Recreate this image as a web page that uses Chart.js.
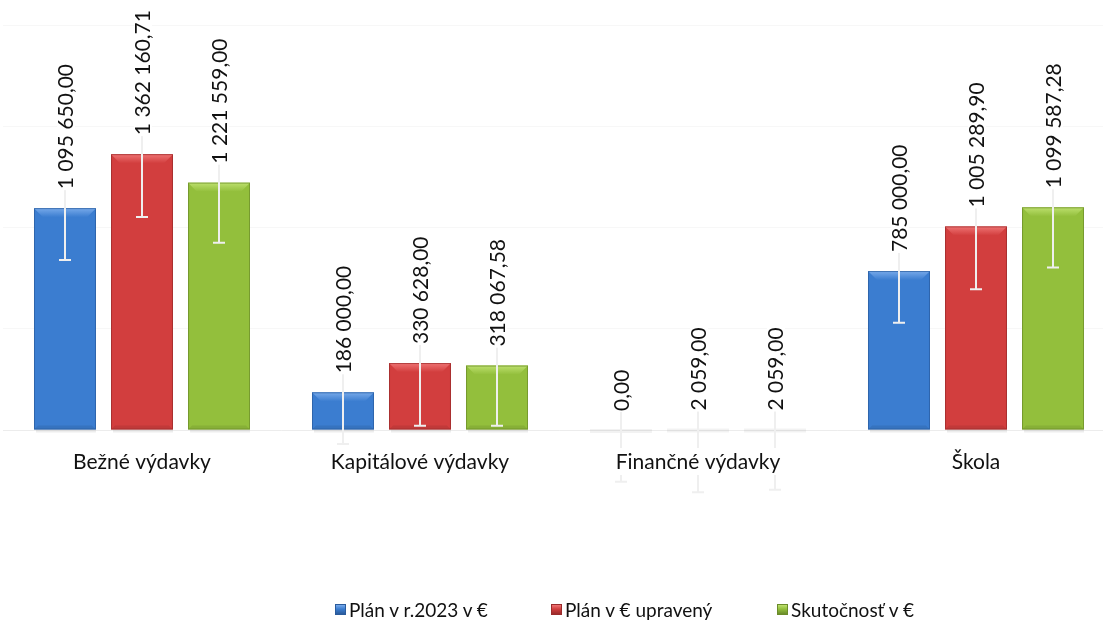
<!DOCTYPE html>
<html>
<head>
<meta charset="utf-8">
<script src="https://cdn.jsdelivr.net/npm/chart.js@4.4.1/dist/chart.umd.min.js"></script>
<style>
  html, body { margin:0; padding:0; background:#fff; overflow:hidden; width:1103px; height:622px; }
  #wrap { position:absolute; left:0; top:0; width:1117px; height:622px; }
  #legend { position:absolute; top:596px; left:0; width:1103px; height:26px; font-family: Lato, "Open Sans", sans-serif; font-size:19px; color:#111; }
  .li { position:absolute; top:0; display:flex; align-items:center; height:26px; white-space:nowrap; }
  .sw { width:11px; height:11px; margin-right:3px; box-sizing:border-box; }
</style>
</head>
<body>
<div id="wrap"><canvas id="c" width="1117" height="622"></canvas></div>
<div id="legend"></div>
<script>
// ---- data ----
const categories = ["Bežné výdavky", "Kapitálové výdavky", "Finančné výdavky", "Škola"];
const seriesNames = ["Plán v r.2023 v €", "Plán v € upravený", "Skutočnosť v €"];
const planPovodny = [1095650.00, 186000.00, 0.00, 785000.00];
const planUpraveny = [1362160.71, 330628.00, 2059.00, 1005289.90];
const skutocnost = [1221559.00, 318067.58, 2059.00, 1099587.28];
// error bar amounts (standard error per series)
const errorAmounts = [255550, 309930, 296980];
const yTicks = [0, 500000, 1000000, 1500000, 2000000];

// ---- styles ----
const palette = [
  { base:'#3b7dd0', light:'#78aaea', dark:'#2a5b9c', mid:'#4688d8' },
  { base:'#d23e3e', light:'#ef7474', dark:'#9a2b2b', mid:'#dc4848' },
  { base:'#93bf3c', light:'#bde06e', dark:'#6b8c2a', mid:'#9dc944' }
];
const legendPos = [335, 551, 777];
const FONT = 'Lato, "Open Sans", sans-serif';
const CAT_FONT_SIZE = 21;

function fmt(v) {
  const s = v.toFixed(2).split('.');
  const int = s[0].replace(/\B(?=(\d{3})+(?!\d))/g, ' ');
  return int + ',' + s[1];
}

function fillFor(i) {
  return function(ctx) {
    const chart = ctx.chart;
    const el = ctx.element;
    if (!el || !chart.chartArea) return palette[i].base;
    const p = el.getProps(['x','width'], true);
    if (!isFinite(p.x) || !isFinite(p.width)) return palette[i].base;
    const g = chart.ctx.createLinearGradient(p.x - p.width/2, 0, p.x + p.width/2, 0);
    g.addColorStop(0, palette[i].dark);
    g.addColorStop(0.08, palette[i].base);
    g.addColorStop(0.5, palette[i].mid);
    g.addColorStop(0.92, palette[i].base);
    g.addColorStop(1, palette[i].dark);
    return g;
  };
}

const bevelPlugin = {
  id: 'bevel',
  afterDatasetsDraw(chart) {
    const ctx = chart.ctx;
    chart.data.datasets.forEach((ds, di) => {
      const meta = chart.getDatasetMeta(di);
      meta.data.forEach((bar) => {
        const p = bar.getProps(['x','y','base','width'], true);
        const l = p.x - p.width/2, r = p.x + p.width/2, t = p.y, b = p.base;
        const h = b - t;
        if (h < 1) {
          ctx.save();
          ctx.fillStyle = 'rgba(0,0,0,0.05)';
          ctx.fillRect(l, b - 1, p.width, 4);
          ctx.restore();
          return;
        }
        const bv = Math.min(9, h/3);
        ctx.save();
        ctx.fillStyle = 'rgba(0,0,0,0.07)';
        ctx.fillRect(l + 2, b, p.width - 2, 3);
        const g = ctx.createLinearGradient(0, t, 0, t + bv);
        g.addColorStop(0, palette[di].light);
        g.addColorStop(1, palette[di].base);
        ctx.fillStyle = g;
        ctx.beginPath();
        ctx.moveTo(l, t); ctx.lineTo(r, t); ctx.lineTo(r - bv, t + bv); ctx.lineTo(l + bv, t + bv); ctx.closePath();
        ctx.fill();
        ctx.fillStyle = 'rgba(0,0,0,0.08)';
        ctx.beginPath();
        ctx.moveTo(l, b); ctx.lineTo(r, b); ctx.lineTo(r - 4, b - 4); ctx.lineTo(l + 4, b - 4); ctx.closePath();
        ctx.fill();
        ctx.strokeStyle = palette[di].dark;
        ctx.globalAlpha = 0.7;
        ctx.lineWidth = 1;
        ctx.strokeRect(l + 0.5, t + 0.5, p.width - 1, h - 1);
        ctx.restore();
      });
    });
  }
};

const errorPlugin = {
  id: 'errbars',
  afterDatasetsDraw(chart) {
    const ctx = chart.ctx;
    const ys = chart.scales.y;
    ctx.save();
    ctx.strokeStyle = '#efefef';
    ctx.lineWidth = 2;
    chart.data.datasets.forEach((ds, di) => {
      const meta = chart.getDatasetMeta(di);
      meta.data.forEach((bar, i) => {
        const v = ds.data[i];
        const e = errorAmounts[di];
        const x = Math.round(bar.x);
        const y1 = ys.getPixelForValue(v + e);
        const y2 = ys.getPixelForValue(v - e);
        ctx.beginPath();
        ctx.moveTo(x, y1); ctx.lineTo(x, y2);
        ctx.moveTo(x - 6, y1); ctx.lineTo(x + 6, y1);
        ctx.moveTo(x - 6, y2); ctx.lineTo(x + 6, y2);
        ctx.stroke();
      });
    });
    ctx.restore();
    // category labels on top of error bars
    const xs = chart.scales.x;
    ctx.save();
    ctx.font = CAT_FONT_SIZE + 'px ' + FONT;
    ctx.fillStyle = '#fff';
    categories.forEach((c, i) => {
      const w = ctx.measureText(c).width;
      const x = xs.getPixelForValue(i);
      ctx.fillRect(x - w/2 - 2, xs.top + 18, w + 4, CAT_FONT_SIZE + 6);
    });
    ctx.restore();
    xs.drawLabels(chart.chartArea);
  }
};

const labelPlugin = {
  id: 'vlabels',
  afterDatasetsDraw(chart) {
    const ctx = chart.ctx;
    ctx.save();
    ctx.font = '21px ' + FONT;
    ctx.textAlign = 'left';
    ctx.textBaseline = 'middle';
    chart.data.datasets.forEach((ds, di) => {
      const meta = chart.getDatasetMeta(di);
      meta.data.forEach((bar, i) => {
        const txt = fmt(ds.data[i]);
        const w = ctx.measureText(txt).width;
        ctx.save();
        ctx.translate(bar.x + 1, bar.y - 19);
        ctx.rotate(-Math.PI/2);
        ctx.fillStyle = '#fff';
        ctx.fillRect(-1, -9, w + 2, 18);
        ctx.fillStyle = '#111';
        ctx.fillText(txt, 0, 0);
        ctx.restore();
      });
    });
    ctx.restore();
  }
};

const seriesData = [planPovodny, planUpraveny, skutocnost];

new Chart(document.getElementById('c'), {
  type: 'bar',
  data: {
    labels: categories,
    datasets: seriesData.map((d, i) => ({
      label: seriesNames[i],
      data: d,
      backgroundColor: fillFor(i),
      borderWidth: 0,
      categoryPercentage: 0.831,
      barPercentage: 0.805
    }))
  },
  options: {
    responsive: false,
    animation: false,
    layout: { padding: { left: 3, right: 2, top: 25, bottom: 0 } },
    plugins: { legend: { display: false }, tooltip: { enabled: false } },
    scales: {
      x: {
        grid: { display: false, drawTicks: false },
        border: { display: true, color: '#ececec', width: 1 },
        ticks: { font: { family: FONT, size: CAT_FONT_SIZE }, color: '#111', padding: 20, maxRotation: 0 },
        afterFit(s) { s.height = 192; }
      },
      y: {
        min: 0, max: 2000000,
        afterBuildTicks(s) { s.ticks = yTicks.map(v => ({ value: v })); },
        ticks: { display: false },
        grid: { color: '#f7f7f7', drawTicks: false },
        border: { display: false },
        afterFit(s) { s.width = 0; }
      }
    }
  },
  plugins: [bevelPlugin, errorPlugin, labelPlugin]
});

// ---- HTML legend ----
const lg = document.getElementById('legend');
seriesNames.forEach((n, i) => {
  const d = document.createElement('div');
  d.className = 'li';
  d.style.left = legendPos[i] + 'px';
  const sw = document.createElement('div');
  sw.className = 'sw';
  sw.style.background = 'linear-gradient(180deg,' + palette[i].light + ' 0%,' + palette[i].base + ' 45%,' + palette[i].dark + ' 100%)';
  sw.style.border = '1px solid ' + palette[i].dark;
  const t = document.createElement('span');
  t.textContent = n;
  d.appendChild(sw); d.appendChild(t);
  lg.appendChild(d);
});
</script>
</body>
</html>
